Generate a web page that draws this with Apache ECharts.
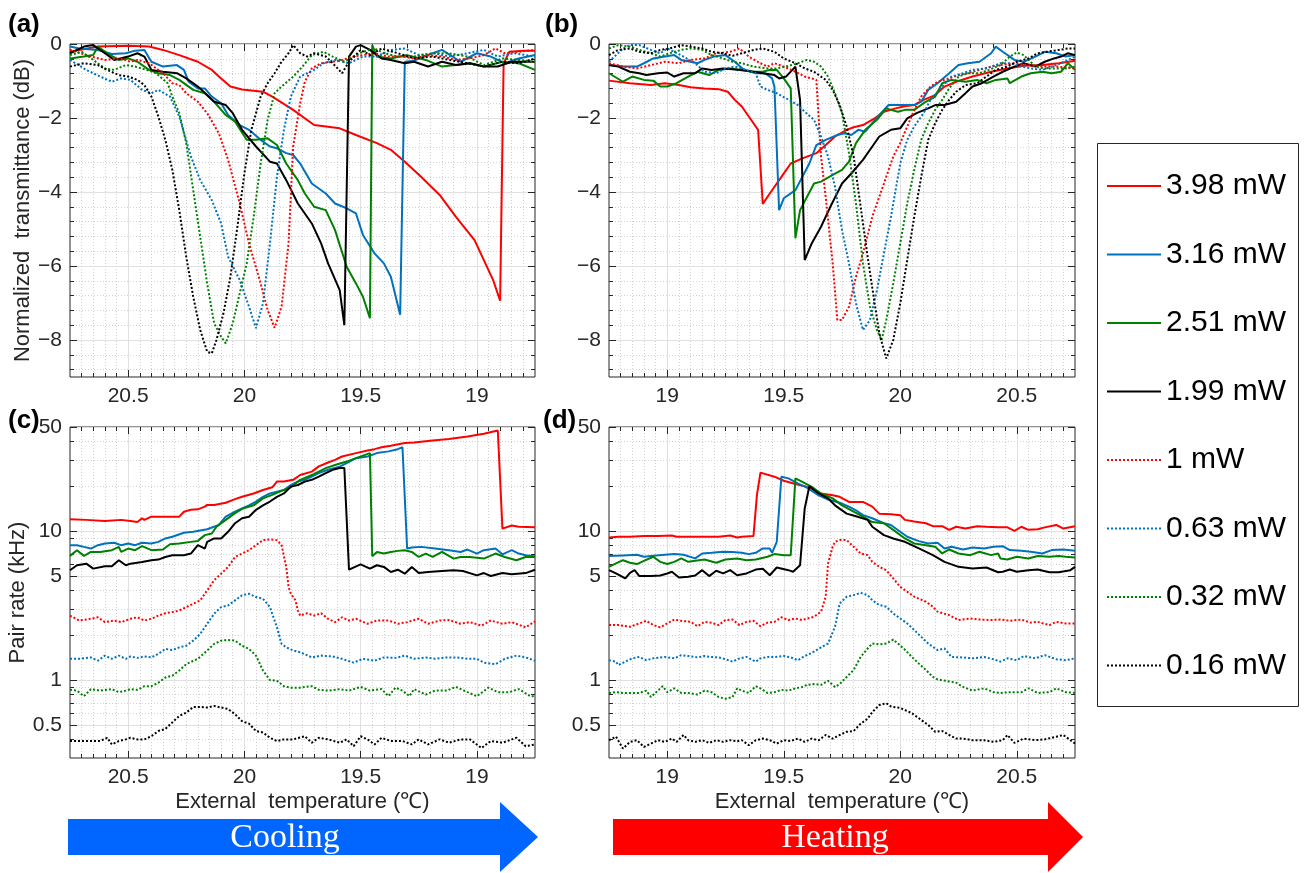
<!DOCTYPE html>
<html><head><meta charset="utf-8">
<script src="https://cdn.jsdelivr.net/npm/echarts@6/dist/echarts.min.js"></script>
<style>html,body{margin:0;padding:0;background:#fff}#chart{width:1304px;height:873px}</style>
</head><body><div id="chart"></div>
<script>
// ---------------- categories / ticks ----------------
const POWERS = ['3.98 mW', '3.16 mW', '2.51 mW', '1.99 mW', '1 mW', '0.63 mW', '0.32 mW', '0.16 mW'];
const X_TICKS = [19, 19.5, 20, 20.5];
const DB_TICKS = [-8, -6, -4, -2, 0];
const RATE_TICKS = [0.5, 1, 5, 10, 50];
const RATE_MINOR = [0.4, 0.6, 0.7, 0.8, 0.9, 2, 3, 4, 6, 7, 8, 9, 20, 30, 40];

// ---------------- (a) cooling, transmittance [T, dB] ----------------
const a_398 = [[20.75,-0.21],[20.63,-0.07],[20.50,-0.05],[20.41,-0.07],[20.35,-0.16],[20.28,-0.30],[20.20,-0.48],[20.14,-0.70],[20.10,-0.93],[20.06,-1.15],[20.01,-1.23],[19.92,-1.29],[19.88,-1.42],[19.79,-1.78],[19.70,-2.19],[19.59,-2.28],[19.52,-2.46],[19.43,-2.68],[19.37,-2.86],[19.31,-3.18],[19.24,-3.59],[19.16,-4.08],[19.09,-4.67],[19.01,-5.30],[18.97,-5.84],[18.93,-6.38],[18.90,-6.94],[18.885,-0.52],[18.86,-0.21],[18.80,-0.18],[18.75,-0.18]];
const a_316 = [[20.75,-0.07],[20.71,-0.12],[20.63,-0.16],[20.57,-0.27],[20.51,-0.25],[20.47,-0.18],[20.43,-0.16],[20.40,-0.48],[20.35,-0.61],[20.29,-0.57],[20.26,-0.70],[20.24,-1.02],[20.20,-1.20],[20.17,-1.20],[20.14,-1.42],[20.10,-1.60],[20.07,-1.92],[20.02,-2.19],[19.98,-2.32],[19.93,-2.59],[19.89,-2.77],[19.86,-2.82],[19.82,-2.95],[19.79,-3.00],[19.76,-3.23],[19.71,-3.77],[19.65,-4.04],[19.61,-4.31],[19.56,-4.44],[19.52,-4.58],[19.49,-5.16],[19.44,-5.66],[19.40,-5.93],[19.37,-6.29],[19.33,-7.32],[19.31,-0.48],[19.27,-0.45],[19.19,-0.25],[19.15,-0.16],[19.07,-0.48],[19.00,-0.25],[18.94,-0.34],[18.88,-0.52],[18.82,-0.39],[18.75,-0.30]];
const a_251 = [[20.75,-0.39],[20.69,-0.34],[20.65,-0.30],[20.63,-0.07],[20.59,-0.25],[20.54,-0.43],[20.50,-0.39],[20.46,-0.48],[20.41,-0.70],[20.37,-0.79],[20.32,-0.84],[20.28,-0.97],[20.22,-1.24],[20.17,-1.33],[20.13,-1.56],[20.08,-1.92],[20.04,-2.10],[19.99,-2.59],[19.95,-2.59],[19.90,-2.55],[19.86,-2.73],[19.82,-3.23],[19.77,-3.68],[19.74,-4.04],[19.70,-4.40],[19.65,-4.49],[19.61,-5.03],[19.56,-6.02],[19.52,-6.47],[19.49,-6.83],[19.46,-7.41],[19.45,-0.03],[19.43,-0.34],[19.37,-0.39],[19.30,-0.30],[19.22,-0.43],[19.15,-0.61],[19.09,-0.57],[19.03,-0.52],[18.97,-0.61],[18.89,-0.48],[18.82,-0.52],[18.75,-0.70]];
const a_199 = [[20.75,-0.25],[20.69,-0.07],[20.65,-0.03],[20.60,-0.25],[20.56,-0.43],[20.50,-0.34],[20.46,-0.25],[20.43,-0.34],[20.40,-0.70],[20.35,-0.75],[20.29,-0.79],[20.25,-0.93],[20.20,-1.15],[20.16,-1.38],[20.13,-1.56],[20.08,-1.65],[20.05,-1.87],[20.01,-2.32],[19.95,-2.77],[19.89,-3.18],[19.86,-3.23],[19.82,-3.68],[19.77,-4.31],[19.71,-4.85],[19.67,-5.39],[19.64,-5.93],[19.59,-6.65],[19.57,-7.60],[19.55,-0.34],[19.52,-0.07],[19.50,-0.03],[19.46,-0.16],[19.41,-0.39],[19.37,-0.43],[19.31,-0.52],[19.27,-0.48],[19.21,-0.61],[19.15,-0.48],[19.09,-0.57],[19.03,-0.52],[18.97,-0.61],[18.91,-0.61],[18.85,-0.48],[18.79,-0.48],[18.75,-0.48]];
const a_100 = [[20.75,-0.16],[20.66,-0.34],[20.60,-0.43],[20.53,-0.39],[20.49,-0.48],[20.46,-0.43],[20.41,-0.52],[20.35,-0.79],[20.31,-1.06],[20.28,-1.11],[20.25,-1.33],[20.20,-1.56],[20.16,-1.87],[20.11,-2.41],[20.07,-3.13],[20.02,-4.31],[19.98,-5.39],[19.93,-6.47],[19.90,-7.19],[19.87,-7.67],[19.84,-7.10],[19.81,-5.39],[19.79,-2.77],[19.76,-1.60],[19.74,-1.02],[19.71,-0.66],[19.67,-0.52],[19.62,-0.48],[19.58,-0.43],[19.53,-0.34],[19.49,-0.30],[19.44,-0.25],[19.38,-0.34],[19.32,-0.34],[19.27,-0.39],[19.21,-0.30],[19.15,-0.34],[19.09,-0.43],[19.03,-0.39],[18.97,-0.30],[18.92,-0.12],[18.88,-0.25],[18.82,-0.21],[18.75,-0.16]];
const a_063 = [[20.75,-0.43],[20.68,-0.70],[20.62,-0.88],[20.57,-1.02],[20.53,-0.93],[20.49,-0.97],[20.44,-1.24],[20.40,-1.33],[20.37,-1.24],[20.32,-1.42],[20.28,-1.96],[20.23,-3.04],[20.19,-3.68],[20.14,-4.22],[20.10,-4.85],[20.07,-5.75],[20.02,-6.38],[19.98,-7.10],[19.95,-7.68],[19.92,-7.01],[19.89,-5.39],[19.86,-3.59],[19.83,-2.32],[19.80,-1.42],[19.76,-0.88],[19.73,-0.79],[19.70,-0.70],[19.66,-0.52],[19.61,-0.43],[19.55,-0.52],[19.49,-0.34],[19.43,-0.34],[19.37,-0.16],[19.31,-0.12],[19.25,-0.30],[19.18,-0.25],[19.12,-0.34],[19.04,-0.25],[18.97,-0.16],[18.91,-0.34],[18.84,-0.25],[18.75,-0.34]];
const a_032 = [[20.75,-0.30],[20.70,-0.21],[20.65,-0.43],[20.60,-0.66],[20.56,-0.70],[20.51,-0.57],[20.47,-0.61],[20.42,-0.70],[20.38,-0.79],[20.33,-1.06],[20.31,-1.42],[20.28,-1.87],[20.25,-2.68],[20.22,-3.95],[20.19,-5.21],[20.16,-6.47],[20.13,-7.55],[20.10,-7.91],[20.08,-8.09],[20.05,-7.55],[20.02,-6.74],[19.99,-5.93],[19.96,-4.67],[19.93,-3.23],[19.90,-2.05],[19.87,-1.33],[19.84,-1.15],[19.79,-0.88],[19.75,-0.61],[19.71,-0.30],[19.66,-0.21],[19.62,-0.34],[19.57,-0.48],[19.53,-0.34],[19.49,-0.21],[19.44,-0.12],[19.40,-0.25],[19.34,-0.34],[19.27,-0.34],[19.19,-0.25],[19.12,-0.25],[19.04,-0.34],[18.97,-0.57],[18.89,-0.39],[18.82,-0.43],[18.75,-0.48]];
const a_016 = [[20.75,-0.61],[20.69,-0.52],[20.63,-0.57],[20.59,-0.70],[20.54,-0.84],[20.50,-0.88],[20.46,-0.97],[20.43,-1.11],[20.40,-1.42],[20.37,-1.96],[20.34,-2.59],[20.31,-3.40],[20.28,-4.49],[20.25,-5.75],[20.22,-6.83],[20.19,-7.73],[20.16,-8.32],[20.14,-8.36],[20.12,-8.00],[20.09,-7.28],[20.06,-6.29],[20.03,-4.94],[20.00,-3.50],[19.97,-2.32],[19.93,-1.42],[19.90,-1.06],[19.87,-0.79],[19.84,-0.48],[19.81,-0.25],[19.79,-0.03],[19.76,-0.25],[19.73,-0.34],[19.70,-0.25],[19.65,-0.34],[19.62,-0.52],[19.58,-0.79],[19.55,-0.48],[19.50,-0.16],[19.46,-0.30],[19.41,-0.12],[19.34,-0.25],[19.27,-0.39],[19.19,-0.34],[19.12,-0.43],[19.04,-0.52],[18.97,-0.61],[18.89,-0.48],[18.82,-0.52],[18.75,-0.39]];

// ---------------- (b) heating, transmittance [T, dB] ----------------
const b_398 = [[18.75,-0.99],[18.84,-1.06],[18.93,-1.11],[18.99,-1.06],[19.05,-1.11],[19.10,-1.17],[19.16,-1.20],[19.22,-1.22],[19.26,-1.29],[19.29,-1.51],[19.32,-1.69],[19.35,-1.96],[19.39,-2.32],[19.41,-4.32],[19.44,-4.04],[19.49,-3.59],[19.53,-3.23],[19.58,-3.09],[19.64,-2.95],[19.68,-2.73],[19.72,-2.50],[19.77,-2.32],[19.80,-2.25],[19.84,-2.19],[19.89,-2.01],[19.93,-1.83],[19.98,-1.74],[20.02,-1.68],[20.06,-1.65],[20.10,-1.51],[20.15,-1.38],[20.19,-1.15],[20.24,-1.02],[20.31,-0.88],[20.39,-0.75],[20.46,-0.66],[20.53,-0.59],[20.61,-0.57],[20.68,-0.52],[20.75,-0.45]];
const b_316 = [[18.75,-0.57],[18.81,-0.61],[18.87,-0.61],[18.90,-0.52],[18.94,-0.39],[18.99,-0.34],[19.03,-0.30],[19.06,-0.43],[19.10,-0.48],[19.13,-0.52],[19.16,-0.43],[19.20,-0.34],[19.25,-0.30],[19.29,-0.48],[19.33,-0.70],[19.38,-0.79],[19.42,-0.79],[19.45,-0.93],[19.46,-1.15],[19.48,-4.49],[19.50,-4.17],[19.55,-3.95],[19.58,-3.59],[19.61,-3.23],[19.64,-2.73],[19.68,-2.59],[19.73,-2.46],[19.76,-2.41],[19.79,-2.46],[19.82,-2.32],[19.85,-2.37],[19.88,-2.14],[19.91,-1.92],[19.95,-1.65],[20.00,-1.65],[20.06,-1.65],[20.09,-1.56],[20.12,-1.24],[20.16,-1.06],[20.21,-0.79],[20.25,-0.57],[20.29,-0.52],[20.34,-0.48],[20.39,-0.25],[20.41,-0.07],[20.44,-0.21],[20.49,-0.43],[20.53,-0.48],[20.58,-0.34],[20.62,-0.21],[20.67,-0.25],[20.71,-0.34],[20.75,-0.30]];
const b_251 = [[18.75,-0.79],[18.81,-1.02],[18.85,-0.88],[18.90,-0.97],[18.94,-0.99],[18.97,-1.15],[19.00,-1.15],[19.04,-1.06],[19.09,-0.88],[19.13,-0.75],[19.18,-0.84],[19.22,-0.70],[19.27,-0.66],[19.31,-0.70],[19.37,-0.75],[19.41,-0.75],[19.44,-0.70],[19.47,-0.70],[19.50,-0.93],[19.53,-1.20],[19.55,-5.25],[19.57,-4.49],[19.60,-4.13],[19.63,-3.77],[19.66,-3.72],[19.71,-3.54],[19.75,-3.40],[19.78,-3.18],[19.81,-2.68],[19.85,-2.32],[19.90,-2.05],[19.94,-1.74],[19.96,-1.78],[19.99,-1.83],[20.02,-1.78],[20.06,-1.78],[20.10,-1.60],[20.15,-1.42],[20.18,-1.06],[20.22,-0.97],[20.28,-1.02],[20.33,-0.97],[20.37,-1.06],[20.41,-0.97],[20.46,-0.93],[20.47,-1.06],[20.52,-0.88],[20.56,-0.79],[20.61,-0.75],[20.65,-0.79],[20.69,-0.75],[20.72,-0.52],[20.75,-0.70]];
const b_199 = [[18.75,-0.57],[18.79,-0.61],[18.84,-0.75],[18.88,-0.79],[18.91,-0.84],[18.96,-0.79],[19.00,-0.77],[19.03,-0.88],[19.07,-0.79],[19.12,-0.79],[19.15,-0.66],[19.19,-0.70],[19.24,-0.66],[19.28,-0.68],[19.32,-0.70],[19.37,-0.75],[19.41,-0.79],[19.46,-0.84],[19.48,-0.93],[19.51,-0.88],[19.55,-0.61],[19.57,-1.51],[19.59,-5.84],[19.62,-5.39],[19.66,-4.94],[19.70,-4.40],[19.75,-3.77],[19.79,-3.50],[19.84,-3.13],[19.88,-2.77],[19.91,-2.50],[19.96,-2.32],[20.00,-2.28],[20.03,-2.01],[20.07,-1.87],[20.12,-1.74],[20.15,-1.65],[20.19,-1.65],[20.24,-1.56],[20.28,-1.33],[20.31,-1.15],[20.35,-1.06],[20.40,-0.88],[20.44,-0.75],[20.49,-0.61],[20.53,-0.52],[20.58,-0.61],[20.62,-0.48],[20.66,-0.39],[20.69,-0.34],[20.72,-0.25],[20.75,-0.30]];
const b_100 = [[18.75,-0.52],[18.81,-0.61],[18.87,-0.66],[18.93,-0.57],[18.99,-0.48],[19.05,-0.52],[19.10,-0.43],[19.16,-0.39],[19.21,-0.25],[19.27,-0.21],[19.31,-0.12],[19.35,-0.34],[19.40,-0.52],[19.43,-0.61],[19.46,-0.52],[19.50,-0.61],[19.55,-0.75],[19.59,-0.88],[19.62,-0.93],[19.64,-0.97],[19.66,-3.04],[19.68,-4.13],[19.71,-5.93],[19.73,-7.46],[19.75,-7.46],[19.78,-7.10],[19.81,-6.29],[19.84,-5.66],[19.88,-4.67],[19.93,-3.77],[19.97,-3.04],[20.00,-2.68],[20.03,-2.23],[20.06,-1.78],[20.09,-1.42],[20.13,-1.15],[20.16,-1.02],[20.21,-0.93],[20.25,-0.84],[20.29,-0.79],[20.34,-0.70],[20.39,-0.61],[20.43,-0.57],[20.49,-0.52],[20.55,-0.57],[20.61,-0.61],[20.67,-0.61],[20.75,-0.66]];
const b_063 = [[18.75,-0.48],[18.78,-0.30],[18.81,-0.12],[18.84,-0.03],[18.88,-0.03],[18.93,-0.16],[18.97,-0.25],[19.00,-0.12],[19.03,-0.21],[19.07,-0.34],[19.12,-0.52],[19.16,-0.75],[19.21,-0.79],[19.25,-0.66],[19.29,-0.61],[19.34,-0.70],[19.38,-0.79],[19.40,-1.15],[19.43,-1.24],[19.47,-1.33],[19.51,-1.47],[19.56,-1.65],[19.59,-1.83],[19.63,-2.05],[19.66,-2.50],[19.69,-3.04],[19.72,-3.86],[19.75,-5.03],[19.78,-5.93],[19.81,-7.01],[19.84,-7.73],[19.87,-7.46],[19.90,-6.65],[19.93,-5.66],[19.96,-4.67],[20.00,-3.23],[20.03,-2.59],[20.06,-2.23],[20.10,-1.87],[20.13,-1.51],[20.18,-1.15],[20.22,-0.88],[20.27,-0.79],[20.31,-0.70],[20.37,-0.66],[20.43,-0.52],[20.47,-0.52],[20.52,-0.61],[20.56,-0.66],[20.61,-0.70],[20.65,-0.61],[20.69,-0.52],[20.75,-0.34]];
const b_032 = [[18.75,-0.12],[18.79,-0.03],[18.84,-0.07],[18.88,-0.16],[18.93,-0.25],[18.97,-0.34],[19.01,-0.25],[19.06,-0.16],[19.10,-0.12],[19.15,-0.16],[19.19,-0.30],[19.24,-0.39],[19.28,-0.48],[19.32,-0.52],[19.37,-0.61],[19.43,-0.66],[19.47,-0.66],[19.51,-0.61],[19.56,-0.52],[19.60,-0.43],[19.63,-0.48],[19.66,-0.61],[19.69,-0.88],[19.72,-1.33],[19.75,-1.87],[19.78,-2.95],[19.81,-4.31],[19.84,-5.93],[19.87,-7.10],[19.90,-7.73],[19.92,-8.00],[19.94,-7.46],[19.97,-6.47],[20.00,-5.39],[20.03,-4.31],[20.06,-3.40],[20.09,-2.59],[20.12,-2.14],[20.15,-1.78],[20.18,-1.51],[20.21,-1.20],[20.25,-0.88],[20.29,-0.79],[20.34,-0.79],[20.38,-0.70],[20.43,-0.57],[20.47,-0.34],[20.50,-0.23],[20.53,-0.30],[20.58,-0.61],[20.62,-0.66],[20.66,-0.66],[20.71,-0.66],[20.75,-0.61]];
const b_016 = [[18.75,-0.30],[18.79,-0.16],[18.84,-0.12],[18.88,-0.21],[18.93,-0.25],[18.97,-0.16],[19.01,-0.12],[19.06,-0.03],[19.10,-0.07],[19.15,-0.12],[19.19,-0.21],[19.24,-0.25],[19.28,-0.32],[19.32,-0.25],[19.37,-0.16],[19.41,-0.12],[19.46,-0.21],[19.50,-0.39],[19.55,-0.52],[19.59,-0.66],[19.63,-0.75],[19.68,-0.97],[19.71,-1.24],[19.74,-1.65],[19.77,-2.23],[19.80,-3.04],[19.83,-4.40],[19.86,-5.75],[19.89,-7.01],[19.91,-7.82],[19.94,-8.50],[19.97,-8.00],[20.00,-7.01],[20.03,-5.84],[20.06,-4.67],[20.09,-3.59],[20.12,-2.59],[20.15,-2.14],[20.18,-1.78],[20.21,-1.51],[20.24,-1.29],[20.28,-1.11],[20.33,-1.06],[20.37,-0.88],[20.41,-0.70],[20.46,-0.61],[20.50,-0.48],[20.55,-0.39],[20.59,-0.25],[20.63,-0.21],[20.68,-0.16],[20.72,-0.12],[20.75,-0.12]];

// ---------------- (c) cooling, pair rate [T, kHz] ----------------
const c_398 = [[20.75,12.0],[20.68,11.9],[20.60,11.7],[20.53,11.9],[20.49,11.7],[20.46,11.5],[20.44,12.2],[20.43,11.9],[20.40,12.5],[20.34,12.5],[20.28,12.5],[20.26,13.5],[20.23,13.9],[20.20,14.0],[20.17,14.6],[20.16,15.0],[20.13,15.0],[20.08,15.5],[20.04,16.4],[20.01,17.0],[19.96,17.9],[19.92,18.9],[19.88,19.7],[19.86,21.5],[19.83,21.5],[19.79,22.1],[19.76,23.8],[19.71,25.1],[19.68,27.2],[19.64,28.9],[19.61,30.1],[19.58,31.7],[19.52,33.4],[19.47,34.8],[19.44,35.5],[19.41,36.6],[19.37,37.4],[19.31,39.0],[19.27,39.4],[19.19,40.6],[19.12,41.5],[19.04,43.2],[18.97,45.0],[18.91,47.4],[18.89,10.4],[18.85,10.9],[18.82,10.7],[18.75,10.6]];
const c_316 = [[20.75,8.05],[20.72,8.05],[20.69,7.84],[20.66,7.64],[20.63,8.05],[20.60,8.26],[20.56,8.35],[20.53,8.05],[20.50,8.26],[20.47,8.05],[20.44,8.35],[20.40,8.26],[20.37,8.47],[20.34,8.93],[20.31,9.16],[20.26,9.75],[20.22,9.90],[20.16,10.3],[20.11,11.0],[20.08,12.5],[20.04,13.5],[20.01,14.2],[19.98,14.9],[19.95,15.8],[19.92,17.0],[19.89,17.9],[19.86,18.4],[19.83,18.9],[19.80,20.4],[19.77,21.5],[19.74,22.1],[19.71,23.2],[19.68,24.5],[19.64,25.8],[19.59,27.1],[19.56,28.6],[19.52,30.9],[19.47,31.7],[19.43,33.4],[19.38,34.3],[19.34,35.5],[19.32,36.6],[19.30,7.64],[19.28,7.76],[19.24,7.84],[19.18,7.64],[19.12,7.45],[19.07,7.25],[19.04,7.52],[19.00,7.07],[18.97,7.45],[18.92,7.64],[18.89,6.99],[18.85,7.45],[18.82,7.07],[18.79,6.89],[18.75,6.78]];
const c_251 = [[20.75,6.82],[20.72,7.45],[20.69,6.82],[20.66,7.25],[20.62,7.25],[20.57,7.45],[20.54,7.84],[20.53,7.25],[20.50,7.64],[20.47,7.45],[20.44,7.93],[20.40,7.45],[20.35,7.52],[20.32,8.17],[20.28,8.26],[20.23,8.47],[20.20,8.60],[20.17,9.40],[20.14,9.64],[20.12,10.7],[20.08,11.9],[20.04,13.2],[20.01,14.1],[19.96,14.9],[19.92,16.6],[19.88,17.5],[19.83,18.9],[19.80,19.7],[19.76,22.1],[19.71,23.8],[19.65,26.5],[19.61,27.8],[19.56,29.3],[19.52,30.9],[19.46,33.4],[19.45,6.78],[19.43,7.25],[19.40,7.07],[19.37,7.25],[19.34,7.37],[19.31,7.45],[19.28,7.25],[19.25,6.71],[19.22,7.07],[19.19,6.71],[19.15,7.25],[19.10,6.54],[19.07,6.71],[19.03,6.71],[18.97,6.54],[18.92,7.07],[18.88,6.71],[18.83,6.37],[18.79,6.71],[18.75,6.71]];
const c_199 = [[20.75,5.46],[20.72,5.90],[20.68,6.05],[20.65,5.60],[20.60,5.81],[20.57,5.81],[20.54,6.37],[20.51,5.90],[20.49,6.05],[20.44,6.21],[20.40,6.37],[20.37,6.44],[20.34,6.71],[20.31,6.89],[20.26,6.89],[20.23,7.07],[20.20,8.05],[20.17,7.64],[20.16,8.47],[20.13,8.93],[20.10,8.93],[20.07,9.90],[20.04,11.3],[20.01,12.2],[19.98,12.5],[19.95,13.9],[19.92,14.9],[19.89,15.8],[19.86,17.0],[19.83,17.9],[19.80,19.9],[19.77,20.4],[19.74,21.5],[19.71,22.1],[19.68,23.2],[19.65,24.5],[19.62,25.8],[19.59,26.5],[19.57,26.5],[19.55,5.51],[19.50,5.99],[19.46,5.60],[19.43,5.90],[19.40,5.75],[19.37,5.32],[19.34,5.51],[19.31,5.18],[19.28,5.75],[19.25,5.23],[19.21,5.32],[19.15,5.40],[19.10,5.46],[19.06,5.40],[19.00,5.05],[18.97,5.23],[18.94,5.00],[18.89,5.23],[18.85,5.13],[18.79,5.23],[18.75,5.51]];
const c_100 = [[20.75,2.71],[20.71,2.51],[20.66,2.58],[20.63,2.64],[20.60,2.45],[20.56,2.51],[20.53,2.45],[20.49,2.58],[20.46,2.64],[20.43,2.51],[20.40,2.58],[20.37,2.71],[20.34,2.81],[20.31,2.86],[20.28,2.93],[20.25,3.09],[20.22,3.25],[20.19,3.43],[20.16,4.00],[20.13,4.68],[20.10,5.18],[20.07,5.75],[20.04,6.71],[20.01,7.07],[19.98,7.45],[19.95,8.05],[19.92,8.70],[19.89,8.79],[19.86,8.70],[19.84,8.05],[19.82,5.75],[19.81,4.22],[19.80,3.80],[19.78,3.43],[19.77,2.93],[19.76,2.71],[19.73,2.81],[19.70,2.71],[19.67,2.81],[19.64,2.58],[19.61,2.45],[19.58,2.64],[19.55,2.51],[19.52,2.58],[19.47,2.39],[19.43,2.51],[19.38,2.51],[19.34,2.39],[19.30,2.45],[19.25,2.58],[19.21,2.39],[19.16,2.51],[19.12,2.53],[19.07,2.39],[19.03,2.45],[18.98,2.32],[18.94,2.51],[18.89,2.39],[18.85,2.45],[18.79,2.26],[18.75,2.48]];
const c_063 = [[20.75,1.39],[20.71,1.39],[20.66,1.42],[20.63,1.35],[20.60,1.46],[20.57,1.39],[20.54,1.46],[20.51,1.39],[20.49,1.44],[20.46,1.41],[20.43,1.44],[20.40,1.42],[20.37,1.50],[20.34,1.62],[20.31,1.59],[20.28,1.66],[20.25,1.70],[20.22,1.84],[20.19,2.04],[20.16,2.39],[20.13,2.79],[20.10,3.09],[20.07,3.17],[20.04,3.43],[20.01,3.71],[19.98,3.80],[19.95,3.61],[19.92,3.52],[19.89,3.09],[19.86,2.26],[19.84,1.75],[19.82,1.66],[19.79,1.58],[19.76,1.54],[19.71,1.42],[19.67,1.46],[19.62,1.44],[19.58,1.39],[19.53,1.31],[19.49,1.39],[19.44,1.35],[19.40,1.42],[19.35,1.41],[19.31,1.46],[19.27,1.39],[19.22,1.42],[19.18,1.39],[19.13,1.42],[19.09,1.42],[19.04,1.39],[19.00,1.39],[18.97,1.31],[18.92,1.28],[18.88,1.39],[18.83,1.46],[18.79,1.42],[18.75,1.35]];
const c_032 = [[20.75,0.86],[20.72,0.85],[20.69,0.78],[20.66,0.87],[20.62,0.85],[20.57,0.87],[20.54,0.83],[20.51,0.85],[20.49,0.87],[20.46,0.86],[20.43,0.91],[20.40,0.91],[20.37,0.96],[20.34,1.04],[20.31,1.07],[20.28,1.16],[20.25,1.28],[20.20,1.39],[20.16,1.58],[20.13,1.75],[20.10,1.84],[20.07,1.86],[20.04,1.84],[20.01,1.70],[19.98,1.62],[19.95,1.46],[19.92,1.16],[19.89,1.00],[19.86,0.99],[19.83,0.91],[19.80,0.89],[19.76,0.89],[19.71,0.91],[19.68,0.86],[19.64,0.85],[19.59,0.87],[19.55,0.85],[19.50,0.90],[19.46,0.85],[19.41,0.87],[19.38,0.78],[19.35,0.89],[19.32,0.85],[19.29,0.78],[19.27,0.87],[19.22,0.80],[19.18,0.85],[19.13,0.85],[19.09,0.90],[19.04,0.83],[19.00,0.78],[18.95,0.89],[18.91,0.83],[18.86,0.83],[18.82,0.87],[18.77,0.78],[18.75,0.78]];
const c_016 = [[20.75,0.39],[20.71,0.39],[20.66,0.39],[20.62,0.39],[20.59,0.41],[20.57,0.37],[20.54,0.39],[20.51,0.40],[20.49,0.41],[20.46,0.40],[20.43,0.40],[20.40,0.42],[20.37,0.455],[20.34,0.47],[20.31,0.52],[20.28,0.575],[20.25,0.605],[20.22,0.66],[20.19,0.66],[20.16,0.655],[20.13,0.67],[20.10,0.655],[20.07,0.64],[20.04,0.59],[20.01,0.53],[19.98,0.51],[19.95,0.455],[19.92,0.445],[19.89,0.41],[19.86,0.39],[19.83,0.40],[19.79,0.40],[19.74,0.42],[19.71,0.38],[19.68,0.41],[19.64,0.40],[19.59,0.38],[19.56,0.40],[19.53,0.36],[19.50,0.42],[19.47,0.40],[19.44,0.37],[19.41,0.41],[19.37,0.39],[19.32,0.39],[19.28,0.37],[19.25,0.40],[19.21,0.37],[19.16,0.40],[19.12,0.38],[19.07,0.40],[19.03,0.40],[18.98,0.35],[18.94,0.39],[18.89,0.38],[18.83,0.41],[18.79,0.36],[18.75,0.37]];

// ---------------- (d) heating, pair rate [T, kHz] ----------------
const d_398 = [[18.75,9.06],[18.79,9.16],[18.84,9.16],[18.90,9.26],[18.96,9.26],[19.02,9.35],[19.04,9.16],[19.10,9.16],[19.16,9.16],[19.22,9.16],[19.27,9.35],[19.30,9.06],[19.32,9.16],[19.37,9.26],[19.385,17.5],[19.40,24.7],[19.46,23.2],[19.50,21.8],[19.55,20.7],[19.59,20.0],[19.63,18.8],[19.66,17.9],[19.71,17.4],[19.74,17.0],[19.78,15.7],[19.84,15.7],[19.88,14.6],[19.91,13.1],[19.96,13.0],[20.00,12.8],[20.02,11.9],[20.06,11.6],[20.11,11.3],[20.14,10.8],[20.18,10.8],[20.21,10.2],[20.24,10.7],[20.28,10.4],[20.33,10.8],[20.37,10.7],[20.42,10.6],[20.46,10.6],[20.49,10.05],[20.52,10.7],[20.55,10.2],[20.59,10.3],[20.62,10.6],[20.67,11.0],[20.70,10.4],[20.75,10.8]];
const d_316 = [[18.75,6.80],[18.81,6.87],[18.87,6.94],[18.90,6.73],[18.94,6.83],[18.99,6.94],[19.03,7.01],[19.07,6.94],[19.12,6.56],[19.15,7.08],[19.19,7.15],[19.24,7.27],[19.28,7.23],[19.32,7.15],[19.35,7.01],[19.38,7.15],[19.41,7.65],[19.44,7.65],[19.45,7.15],[19.47,8.48],[19.49,23.2],[19.52,22.6],[19.56,20.9],[19.60,19.6],[19.65,17.4],[19.69,16.3],[19.74,15.5],[19.78,14.6],[19.81,13.8],[19.84,12.8],[19.88,12.2],[19.93,11.3],[19.96,11.0],[20.00,9.90],[20.03,9.16],[20.08,8.57],[20.12,8.26],[20.16,8.35],[20.19,7.65],[20.22,7.85],[20.27,7.53],[20.31,7.77],[20.36,7.65],[20.40,7.85],[20.44,7.93],[20.47,7.46],[20.52,7.38],[20.56,7.27],[20.61,7.08],[20.65,7.46],[20.70,7.53],[20.75,7.38]];
const d_251 = [[18.75,5.76],[18.78,6.07],[18.81,6.38],[18.84,6.13],[18.87,6.01],[18.90,6.32],[18.94,6.73],[18.97,6.22],[19.00,6.01],[19.03,6.22],[19.06,6.56],[19.09,6.22],[19.12,6.32],[19.16,6.45],[19.21,6.13],[19.25,6.45],[19.30,6.56],[19.34,6.38],[19.38,6.45],[19.43,6.73],[19.46,7.01],[19.50,6.90],[19.53,6.90],[19.55,22.6],[19.58,21.4],[19.62,19.8],[19.66,17.9],[19.71,16.6],[19.75,14.9],[19.80,13.5],[19.84,12.5],[19.88,11.5],[19.93,11.3],[19.97,10.2],[20.02,8.93],[20.06,8.26],[20.11,8.05],[20.15,7.85],[20.18,7.08],[20.21,7.53],[20.25,7.08],[20.30,6.90],[20.34,7.27],[20.39,6.90],[20.42,7.08],[20.43,6.56],[20.46,6.45],[20.50,6.73],[20.55,6.56],[20.59,6.80],[20.64,6.73],[20.68,6.80],[20.71,6.73],[20.75,6.66]];
const d_199 = [[18.75,5.47],[18.78,5.20],[18.82,4.81],[18.84,5.25],[18.86,5.47],[18.88,4.99],[18.93,4.99],[18.97,5.04],[19.00,5.20],[19.02,5.34],[19.05,4.89],[19.09,4.94],[19.12,5.04],[19.15,5.47],[19.18,4.99],[19.21,5.42],[19.24,5.20],[19.27,5.47],[19.30,5.06],[19.34,5.20],[19.38,5.52],[19.41,5.59],[19.44,5.06],[19.47,5.70],[19.52,5.47],[19.54,5.34],[19.57,5.90],[19.59,14.2],[19.61,20.0],[19.65,17.9],[19.69,16.6],[19.72,14.9],[19.77,13.1],[19.81,12.6],[19.86,11.9],[19.88,10.7],[19.93,9.40],[19.97,8.93],[20.02,8.48],[20.08,7.65],[20.14,6.90],[20.19,6.22],[20.25,5.76],[20.31,5.62],[20.37,5.70],[20.42,5.30],[20.44,5.34],[20.47,5.52],[20.50,5.34],[20.55,5.47],[20.59,5.52],[20.64,5.30],[20.68,5.30],[20.73,5.47],[20.75,5.76]];
const d_100 = [[18.75,2.34],[18.79,2.34],[18.84,2.28],[18.88,2.40],[18.91,2.50],[18.94,2.34],[18.97,2.26],[19.00,2.40],[19.03,2.55],[19.06,2.50],[19.10,2.46],[19.13,2.30],[19.16,2.46],[19.19,2.43],[19.22,2.34],[19.25,2.53],[19.28,2.55],[19.31,2.34],[19.34,2.46],[19.37,2.50],[19.40,2.30],[19.43,2.43],[19.46,2.46],[19.49,2.64],[19.52,2.53],[19.55,2.59],[19.58,2.53],[19.60,2.59],[19.63,2.66],[19.66,2.88],[19.68,3.63],[19.69,6.07],[19.71,7.85],[19.72,8.48],[19.74,8.71],[19.77,8.71],[19.80,7.85],[19.83,7.08],[19.86,6.90],[19.88,6.22],[19.91,5.76],[19.94,5.47],[19.97,4.81],[20.00,4.23],[20.03,3.92],[20.06,3.63],[20.11,3.36],[20.14,3.11],[20.16,2.88],[20.21,2.73],[20.25,2.53],[20.30,2.59],[20.34,2.55],[20.39,2.53],[20.43,2.55],[20.47,2.50],[20.52,2.55],[20.56,2.43],[20.59,2.46],[20.64,2.34],[20.67,2.46],[20.71,2.40],[20.75,2.40]];
const d_063 = [[18.75,1.36],[18.78,1.33],[18.79,1.26],[18.82,1.33],[18.85,1.40],[18.88,1.43],[18.91,1.36],[18.94,1.40],[18.99,1.43],[19.03,1.40],[19.06,1.47],[19.09,1.45],[19.13,1.42],[19.16,1.45],[19.19,1.43],[19.22,1.42],[19.25,1.38],[19.28,1.33],[19.31,1.40],[19.34,1.43],[19.38,1.33],[19.40,1.40],[19.43,1.43],[19.46,1.43],[19.50,1.45],[19.53,1.42],[19.56,1.36],[19.59,1.45],[19.62,1.52],[19.66,1.66],[19.69,1.76],[19.72,2.28],[19.74,3.27],[19.77,3.63],[19.80,3.72],[19.83,3.85],[19.86,3.72],[19.88,3.44],[19.91,3.19],[19.94,3.11],[19.97,2.80],[20.00,2.59],[20.03,2.40],[20.06,2.17],[20.09,1.95],[20.12,1.76],[20.16,1.59],[20.19,1.63],[20.22,1.43],[20.27,1.42],[20.31,1.40],[20.36,1.43],[20.40,1.38],[20.43,1.33],[20.46,1.40],[20.50,1.36],[20.53,1.45],[20.58,1.40],[20.62,1.47],[20.67,1.38],[20.71,1.36],[20.75,1.40]];
const d_032 = [[18.75,0.82],[18.78,0.83],[18.81,0.82],[18.84,0.82],[18.88,0.82],[18.91,0.85],[18.93,0.77],[18.96,0.85],[18.98,0.91],[19.00,0.83],[19.03,0.88],[19.06,0.82],[19.09,0.82],[19.13,0.80],[19.16,0.85],[19.19,0.83],[19.22,0.77],[19.25,0.75],[19.28,0.77],[19.30,0.88],[19.32,0.85],[19.35,0.82],[19.38,0.91],[19.40,0.88],[19.43,0.82],[19.46,0.83],[19.49,0.86],[19.52,0.85],[19.55,0.88],[19.58,0.90],[19.60,0.93],[19.63,0.94],[19.66,0.93],[19.69,0.99],[19.72,0.90],[19.74,0.94],[19.77,1.05],[19.80,1.17],[19.83,1.43],[19.86,1.63],[19.88,1.76],[19.91,1.74],[19.94,1.76],[19.97,1.87],[19.99,1.76],[20.02,1.60],[20.05,1.43],[20.08,1.29],[20.11,1.17],[20.14,1.05],[20.16,1.01],[20.21,0.98],[20.24,0.96],[20.27,0.90],[20.31,0.85],[20.36,0.88],[20.40,0.83],[20.43,0.82],[20.47,0.83],[20.52,0.83],[20.55,0.88],[20.59,0.82],[20.64,0.83],[20.67,0.88],[20.71,0.83],[20.75,0.82]];
const d_016 = [[18.75,0.395],[18.78,0.417],[18.81,0.347],[18.84,0.385],[18.87,0.395],[18.90,0.356],[18.93,0.375],[18.96,0.395],[18.99,0.385],[19.02,0.405],[19.04,0.385],[19.07,0.428],[19.09,0.395],[19.12,0.385],[19.15,0.395],[19.18,0.379],[19.21,0.395],[19.24,0.385],[19.27,0.395],[19.30,0.389],[19.32,0.395],[19.35,0.366],[19.38,0.395],[19.41,0.405],[19.44,0.395],[19.47,0.375],[19.50,0.395],[19.53,0.39],[19.56,0.405],[19.59,0.385],[19.62,0.405],[19.65,0.395],[19.68,0.428],[19.71,0.405],[19.74,0.428],[19.77,0.45],[19.80,0.455],[19.83,0.51],[19.86,0.55],[19.88,0.61],[19.91,0.68],[19.94,0.70],[19.96,0.665],[20.00,0.65],[20.05,0.60],[20.09,0.54],[20.12,0.50],[20.15,0.45],[20.18,0.455],[20.21,0.428],[20.24,0.405],[20.27,0.405],[20.31,0.395],[20.36,0.395],[20.40,0.385],[20.44,0.395],[20.46,0.428],[20.49,0.379],[20.53,0.405],[20.58,0.395],[20.62,0.40],[20.67,0.417],[20.70,0.428],[20.73,0.395],[20.75,0.375]];

const PANELS = [
  [a_398, a_316, a_251, a_199, a_100, a_063, a_032, a_016],
  [b_398, b_316, b_251, b_199, b_100, b_063, b_032, b_016],
  [c_398, c_316, c_251, c_199, c_100, c_063, c_032, c_016],
  [d_398, d_316, d_251, d_199, d_100, d_063, d_032, d_016]
];

// ---------------- styling ----------------
const COLORS = ['#FF0000', '#0072BD', '#008000', '#000000', '#FF0000', '#0072BD', '#008000', '#000000'];
const AXC = '#262626';
const FONT = '"Liberation Sans", Arial, sans-serif';
const GRIDS = [
  {left: 70, top: 44, width: 465, height: 333},
  {left: 609, top: 44, width: 466, height: 333},
  {left: 70, top: 427, width: 465, height: 331},
  {left: 609, top: 427, width: 466, height: 331}
];

// minor tick positions (axis decoration only)
const X_MINOR = [];
for (let k = 376; k <= 414; k++) { if (k % 10 !== 0) X_MINOR.push(+(k * 0.05).toFixed(2)); }
const DB_MINOR = [];
for (let k = 1; k <= 22; k++) { if (k % 5 !== 0) DB_MINOR.push(+(-0.4 * k).toFixed(1)); }

const xAxis = [], yAxis = [], series = [];
GRIDS.forEach((gr, g) => {
  const inv = (g === 0 || g === 2);
  const xb = {gridIndex: g, type: 'value', min: 18.75, max: 20.75, inverse: inv,
    axisLine: {show: false, onZero: false}, axisLabel: {show: false}, splitLine: {show: false}};
  xAxis.push(Object.assign({}, xb, {
    position: 'bottom',
    name: g >= 2 ? 'External  temperature (\u2103)' : '',
    nameLocation: 'middle', nameGap: 33,
    nameTextStyle: {fontSize: 22, color: AXC, fontFamily: FONT},
    axisTick: {show: true, inside: true, length: 7, customValues: X_TICKS, lineStyle: {color: AXC}},
    axisLabel: {show: true, customValues: X_TICKS, margin: 9, fontSize: 21, color: AXC, fontFamily: FONT, formatter: v => String(v)},
    splitLine: {show: true, lineStyle: {color: '#e0e0e0', width: 1}}
  }));
  xAxis.push(Object.assign({}, xb, {position: 'top',
    axisTick: {show: true, inside: true, length: 7, customValues: X_TICKS, lineStyle: {color: AXC}}}));
  xAxis.push(Object.assign({}, xb, {position: 'bottom',
    axisTick: {show: true, inside: true, length: 4, customValues: X_MINOR, lineStyle: {color: AXC}},
    splitLine: {show: true, lineStyle: {color: '#d2d2d2', width: 1, type: [1, 2]}}}));
  xAxis.push(Object.assign({}, xb, {position: 'top',
    axisTick: {show: true, inside: true, length: 4, customValues: X_MINOR, lineStyle: {color: AXC}}}));

  const isLog = g >= 2;
  const yb = isLog
    ? {gridIndex: g, type: 'log', logBase: 10, min: 0.3, max: 50}
    : {gridIndex: g, type: 'value', min: -9, max: 0};
  Object.assign(yb, {axisLine: {show: false, onZero: false}, axisLabel: {show: false}, splitLine: {show: false}});
  const MAJ = isLog ? RATE_TICKS : DB_TICKS;
  const MIN = isLog ? RATE_MINOR : DB_MINOR;
  yAxis.push(Object.assign({}, yb, {
    position: 'left',
    name: g === 0 ? 'Normalized  transmittance (dB)' : (g === 2 ? 'Pair rate (kHz)' : ''),
    nameLocation: 'middle', nameGap: 36,
    nameTextStyle: {fontSize: 22, color: AXC, fontFamily: FONT},
    axisTick: {show: true, inside: true, length: 7, customValues: MAJ, lineStyle: {color: AXC}},
    axisLabel: {show: true, customValues: MAJ, margin: 8, fontSize: 21, color: AXC, fontFamily: FONT,
      formatter: v => String(v).replace('-', '\u2212')},
    splitLine: {show: true, lineStyle: {color: '#e0e0e0', width: 1}}
  }));
  yAxis.push(Object.assign({}, yb, {position: 'right',
    axisTick: {show: true, inside: true, length: 7, customValues: MAJ, lineStyle: {color: AXC}}}));
  yAxis.push(Object.assign({}, yb, {position: 'left',
    axisTick: {show: true, inside: true, length: 4, customValues: MIN, lineStyle: {color: AXC}},
    splitLine: {show: true, lineStyle: {color: '#d2d2d2', width: 1, type: [1, 2]}}}));
  yAxis.push(Object.assign({}, yb, {position: 'right',
    axisTick: {show: true, inside: true, length: 4, customValues: MIN, lineStyle: {color: AXC}}}));

  PANELS[g].forEach((d, i) => {
    series.push({
      type: 'line', name: POWERS[i], xAxisIndex: 4 * g, yAxisIndex: 4 * g,
      data: d, symbol: 'none', showSymbol: false, silent: true, z: 2 + i,
      lineStyle: {color: COLORS[i], width: 2, type: i < 4 ? 'solid' : [2, 2]},
      itemStyle: {color: COLORS[i]}
    });
  });
});

const option = {
  animation: false,
  backgroundColor: '#fff',
  grid: GRIDS.map(gr => Object.assign({show: true, borderColor: AXC, borderWidth: 1, backgroundColor: 'transparent', containLabel: false}, gr)),
  xAxis, yAxis, series,
  legend: {
    orient: 'vertical', left: 1106, top: 171, padding: 0,
    itemWidth: 54, itemHeight: 30, itemGap: 38.5,
    data: POWERS, selectedMode: false,
    itemStyle: {opacity: 0},
    textStyle: {fontSize: 30, color: '#000', fontFamily: FONT}
  },
  graphic: [
    {type: 'rect', shape: {x: 1097.5, y: 143.5, width: 201, height: 563}, style: {fill: 'none', stroke: AXC, lineWidth: 1}, silent: true},
    {type: 'text', x: 8, y: 25, style: {text: '(a)', font: 'bold 26px "Liberation Sans"', fill: '#000', verticalAlign: 'middle'}},
    {type: 'text', x: 545, y: 25, style: {text: '(b)', font: 'bold 26px "Liberation Sans"', fill: '#000', verticalAlign: 'middle'}},
    {type: 'text', x: 8, y: 421, style: {text: '(c)', font: 'bold 26px "Liberation Sans"', fill: '#000', verticalAlign: 'middle'}},
    {type: 'text', x: 543, y: 421, style: {text: '(d)', font: 'bold 26px "Liberation Sans"', fill: '#000', verticalAlign: 'middle'}},
    {type: 'polygon', shape: {points: [[68, 819], [500, 819], [500, 802], [538, 837], [500, 872], [500, 855], [68, 855]]}, style: {fill: '#0066FF'}, silent: true},
    {type: 'polygon', shape: {points: [[613, 819], [1048, 819], [1048, 802], [1083, 837], [1048, 872], [1048, 855], [613, 855]]}, style: {fill: '#FF0000'}, silent: true},
    {type: 'text', x: 285, y: 838, style: {text: 'Cooling', font: '34px "Liberation Serif"', fill: '#fff', align: 'center', verticalAlign: 'middle'}},
    {type: 'text', x: 835, y: 838, style: {text: 'Heating', font: '34px "Liberation Serif"', fill: '#fff', align: 'center', verticalAlign: 'middle'}}
  ]
};

const chart = echarts.init(document.getElementById('chart'), null, {renderer: 'canvas'});
chart.setOption(option);
</script>
</body></html>
